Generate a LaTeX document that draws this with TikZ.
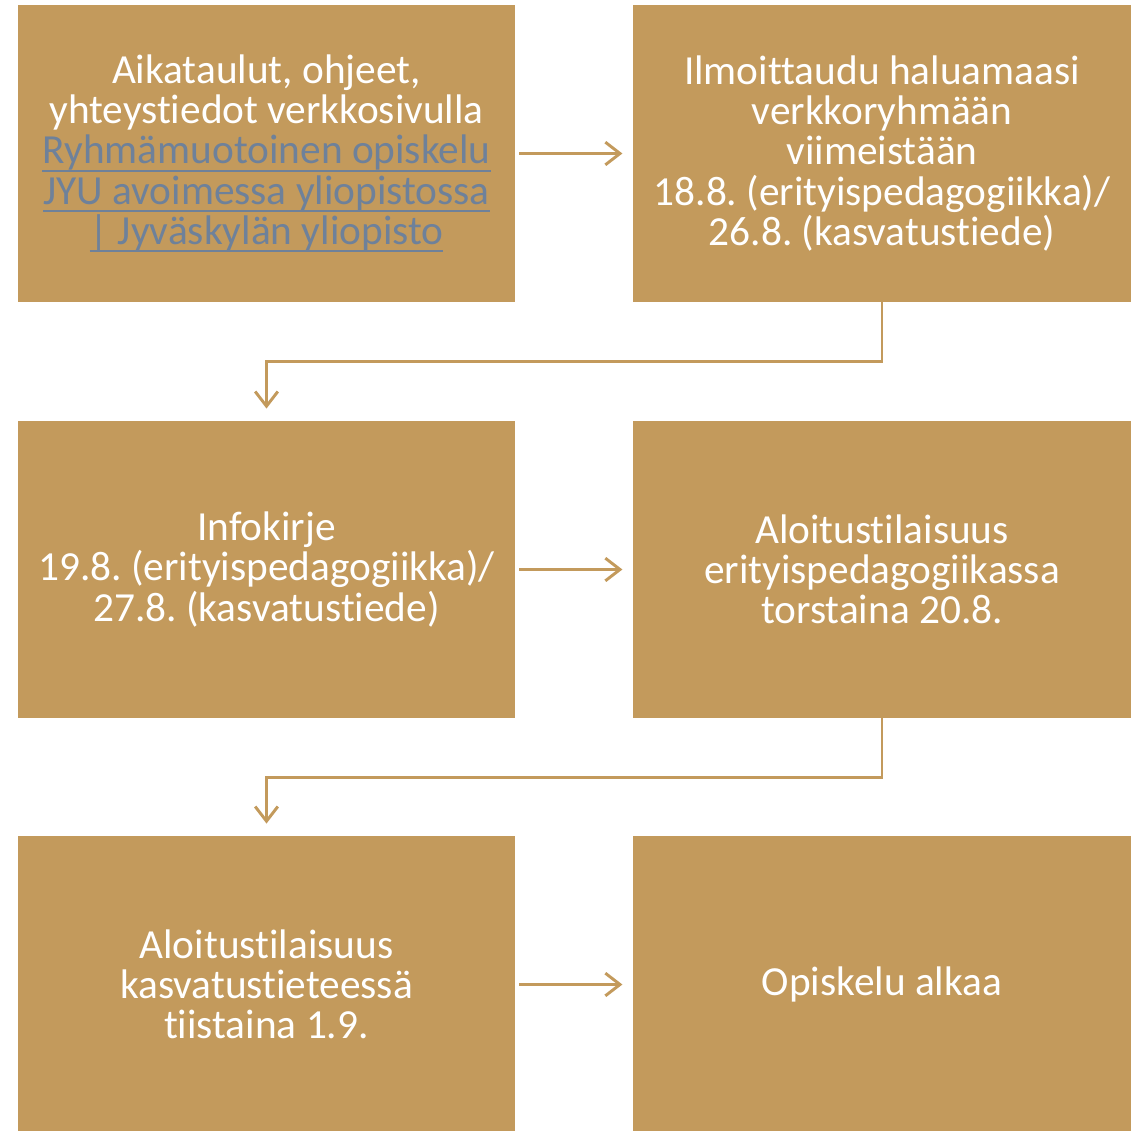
\documentclass[tikz,border=0pt]{standalone}
\usepackage{fontspec}
\setmainfont{Carlito}[Ligatures=NoCommon]
\usetikzlibrary{arrows.meta}
\definecolor{jyugold}{HTML}{C39A5C}
\definecolor{jyulink}{HTML}{6E819A}
\newcommand{\lnk}[1]{\textcolor{jyulink}{\setbox0\hbox{#1}\rlap{\rule[-6pt]{\wd0}{1.5pt}}\box0}}
\frenchspacing
\begin{document}
\begin{tikzpicture}[x=0.75pt,y=-0.75pt,
    stepbox/.style={fill=jyugold, text=white, align=center, inner sep=0pt,
        minimum width=373pt, minimum height=223pt,
        font=\fontsize{31}{30.2}\selectfont},
    flow/.style={draw=jyugold, line width=2.2pt,
        -{Straight Barb[length=11pt,width=17pt,line width=2.2pt]}}]
    \useasboundingbox (0,0) rectangle (1140,1131);
    \node[stepbox] (s1) at (266.5,153.5) {Aikataulut, ohjeet,\\yhteystiedot verkkosivulla\\\lnk{Ryhmämuotoinen opiskelu}\\\lnk{JYU avoimessa yliopistossa}\\\lnk{| Jyväskylän yliopisto}};
    \node[stepbox] (s2) at (882,153.5) {Ilmoittaudu haluamaasi\\verkkoryhmään\\viimeistään\\18.8. (erityispedagogiikka)/\\26.8. (kasvatustiede)};
    \node[stepbox] (s3) at (266.5,569.5) {Infokirje\\19.8. (erityispedagogiikka)/\\27.8. (kasvatustiede)};
    \node[stepbox] (s4) at (882,569.5) {Aloitustilaisuus\\erityispedagogiikassa\\torstaina 20.8.};
    \node[stepbox] (s5) at (266.5,984.5) {Aloitustilaisuus\\kasvatustieteessä\\tiistaina 1.9.};
    \node[stepbox] (s6) at (882,984.5) {Opiskelu alkaa};
    \draw[flow, shorten <=3pt, shorten >=8pt] (s1) -- (s2);
    \draw[flow, shorten <=3pt, shorten >=8pt] (s3) -- (s4);
    \draw[flow, shorten <=3pt, shorten >=8pt] (s5) -- (s6);
    \draw[flow, shorten >=9pt] (s2.south) -- ++(0,59) -| (s3.north);
    \draw[flow, shorten >=9pt] (s4.south) -- ++(0,59) -| (s5.north);
\end{tikzpicture}
\end{document}
